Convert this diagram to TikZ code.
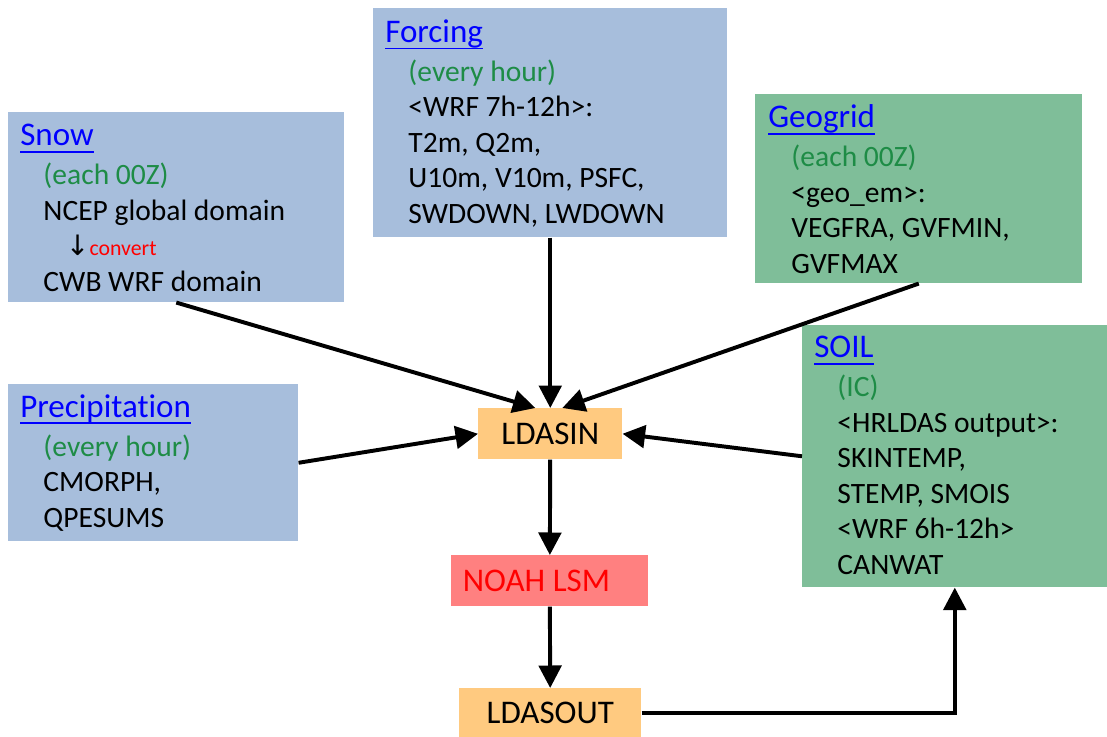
\documentclass[tikz,border=0pt]{standalone}
\usepackage{fontspec}
\setmainfont{Carlito}[Ligatures=CommonOff]
\newfontfamily\arrowfont{DejaVu Sans}
\usetikzlibrary{arrows.meta}

\definecolor{boxblue}{RGB}{167,190,220}
\definecolor{boxgreen}{RGB}{127,190,153}
\definecolor{boxorange}{RGB}{255,202,128}
\definecolor{boxred}{RGB}{255,128,128}
\definecolor{titleblue}{RGB}{0,0,255}
\definecolor{freqgreen}{RGB}{30,140,70}

\def\pxl{0.025cm}
\newsavebox{\ttlbox}
\newcommand{\ttl}[1]{\sbox{\ttlbox}{\color{titleblue}\fontsize{23.5pt}{25.2pt}\selectfont #1}\textcolor{titleblue}{\rlap{\rule[-5pt]{\wd\ttlbox}{1.3pt}}\usebox{\ttlbox}}\\[2.5pt]}
\newcommand{\ind}{\hspace*{16.5pt}}
\newcommand{\freq}[1]{\ind\textcolor{freqgreen}{#1}}

\begin{document}
\begin{tikzpicture}
	[x=0.025cm, y=-0.025cm,
	font=\fontsize{21pt}{25.2pt}\selectfont,
	box/.style = {
		anchor=north west,
		inner sep=0pt
	},
	bluebox/.style = {
		box, fill=boxblue
	},
	greenbox/.style = {
		box, fill=boxgreen
	},
	filebox/.style = {
		box, fill=boxorange,
		font=\fontsize{23.5pt}{25pt}\selectfont
	},
	modelbox/.style = {
		box, fill=boxred, text=red,
		font=\fontsize{23.5pt}{25pt}\selectfont
	},
	txt/.style = {
		anchor=base west,
		align=left,
		inner sep=0pt
	},
	wire/.style = {
		line width=2.8pt,
		-{Triangle[length=16pt, width=16pt]}
	}]
	
	\useasboundingbox (0,0) rectangle (1107,737);
	
	%Draw boxes
	\node[bluebox, minimum width=336*\pxl, minimum height=190*\pxl] at (8,112) (snow) {};
	\node[bluebox, minimum width=354*\pxl, minimum height=229*\pxl] at (373,8) (forcing) {};
	\node[greenbox, minimum width=327*\pxl, minimum height=189*\pxl] at (755,94) (geogrid) {};
	\node[greenbox, minimum width=305*\pxl, minimum height=262*\pxl] at (802,325) (soil) {};
	\node[bluebox, minimum width=290*\pxl, minimum height=157*\pxl] at (8,384) (precip) {};
	
	\node[filebox, minimum width=144*\pxl, minimum height=51*\pxl] at (478,408) (ldasin) {LDASIN};
	\node[modelbox, minimum width=197*\pxl, minimum height=51*\pxl] at (451,555) (noah) {NOAH LSM\hspace*{19pt}};
	\node[filebox, minimum width=182*\pxl, minimum height=49*\pxl] at (459,688) (ldasout) {LDASOUT};
	
	%Draw texts (anchored at the baseline of the last line)
	\node[txt] at (20,291) (snowtxt) {\ttl{Snow}
		\freq{(each 00Z)}\\
		\ind NCEP global domain\\
		\ind\hspace*{16pt}{\arrowfont\fontsize{20pt}{20pt}\selectfont ↓}{\color{red}\fontsize{15.5pt}{18pt}\selectfont convert}\\
		\ind CWB WRF domain};
	\node[txt] at (385,223) (forcingtxt) {\ttl{Forcing}
		\freq{(every hour)}\\
		\ind <WRF 7h-12h>:\\
		\ind T2m, Q2m,\\
		\ind U10m, V10m, PSFC,\\
		\ind SWDOWN, LWDOWN};
	\node[txt] at (768,273) (geogridtxt) {\ttl{Geogrid}
		\freq{(each 00Z)}\\
		\ind <geo\_em>:\\
		\ind VEGFRA, GVFMIN,\\
		\ind GVFMAX};
	\node[txt] at (814,574) (soiltxt) {\ttl{SOIL}
		\freq{(IC)}\\
		\ind <HRLDAS output>:\\
		\ind SKINTEMP,\\
		\ind STEMP, SMOIS\\
		\ind <WRF 6h-12h>\\
		\ind CANWAT};
	\node[txt] at (20,527) (preciptxt) {\ttl{Precipitation}
		\freq{(every hour)}\\
		\ind CMORPH,\\
		\ind QPESUMS};
	
	%Draw wires
	\draw[wire] (snow.south) to (ldasin.120);
	\draw[wire] (forcing.south) to (ldasin.north);
	\draw[wire] (geogrid.south) to (ldasin.65);
	\draw[wire] (precip.east) to (ldasin.west);
	\draw[wire] (soil.west) to (ldasin.east);
	
	\draw[wire] (ldasin) to (noah);
	\draw[wire] (noah) to (ldasout);
	\draw[wire] (ldasout.east) -| (soil.south);
	
\end{tikzpicture}
\end{document}
